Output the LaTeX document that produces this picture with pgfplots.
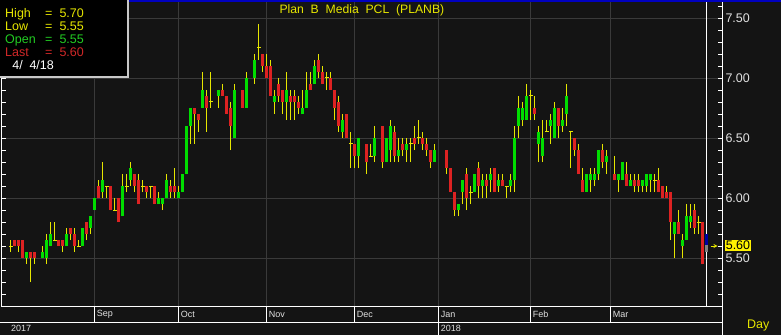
\documentclass[border=0pt]{standalone}
\usepackage{pgfplots}
\pgfplotsset{compat=1.18}
\usepackage{pgfplotstable}
\usepackage{fontspec}
\setmainfont{Liberation Sans}
\definecolor{bg}{HTML}{141414}
\definecolor{gridc}{HTML}{3A3A3A}
\definecolor{cgreen}{HTML}{00DD00}
\definecolor{cred}{HTML}{DD2222}
\definecolor{cyel}{HTML}{E6E600}
\definecolor{lgreen}{HTML}{22CC22}
\definecolor{lred}{HTML}{D02828}
\definecolor{labc}{HTML}{E0E0E0}
\definecolor{topblue}{HTML}{0000C0}
\definecolor{boxgrey}{HTML}{C8C8C8}
\definecolor{curblue}{HTML}{0000A0}
\definecolor{curgrey}{HTML}{808080}

\pgfplotstableread{
k o h l c
0 5.60 5.65 5.55 5.60
1 5.65 5.65 5.60 5.60
2 5.65 5.65 5.55 5.60
3 5.65 5.65 5.50 5.50
4 5.50 5.55 5.45 5.55
5 5.55 5.55 5.30 5.50
6 5.55 5.55 5.45 5.50
8 5.50 5.60 5.50 5.55
9 5.50 5.70 5.45 5.65
10 5.60 5.80 5.60 5.70
11 5.65 5.80 5.65 5.65
12 5.65 5.65 5.60 5.60
13 5.65 5.65 5.55 5.60
14 5.60 5.75 5.60 5.70
15 5.75 5.75 5.65 5.70
16 5.70 5.75 5.55 5.60
17 5.60 5.65 5.60 5.60
18 5.60 5.75 5.60 5.75
19 5.80 5.80 5.65 5.70
20 5.75 5.85 5.70 5.85
21 5.90 6.00 5.90 6.00
22 6.10 6.15 6.00 6.00
23 6.05 6.30 6.00 6.15
24 6.10 6.10 6.00 6.10
25 6.10 6.10 5.90 5.90
26 5.90 6.00 5.90 5.90
27 6.00 6.00 5.80 5.80
28 5.85 6.20 5.85 6.10
29 6.10 6.20 6.05 6.10
30 6.15 6.30 6.10 6.25
31 6.20 6.20 6.05 6.10
32 6.15 6.20 5.95 5.95
33 6.10 6.15 6.05 6.10
34 6.10 6.10 6.00 6.05
35 6.10 6.10 6.00 6.10
36 6.10 6.10 5.95 5.95
37 5.95 6.05 5.95 6.00
38 5.95 6.00 5.90 6.00
39 6.00 6.20 6.00 6.15
40 6.10 6.15 6.00 6.05
41 6.10 6.25 6.00 6.05
42 6.00 6.10 6.00 6.05
43 6.05 6.20 6.05 6.20
44 6.20 6.60 6.20 6.60
45 6.60 6.75 6.45 6.75
46 6.75 6.75 6.45 6.70
47 6.70 6.70 6.55 6.65
48 6.75 7.05 6.75 6.90
49 6.85 6.90 6.55 6.75
50 6.80 7.05 6.75 6.80
52 6.85 6.90 6.75 6.90
53 6.90 6.95 6.85 6.85
54 6.85 6.85 6.70 6.70
55 6.75 6.80 6.40 6.60
56 6.50 6.95 6.50 6.90
58 6.90 6.90 6.75 6.75
59 6.75 7.05 6.75 7.00
61 7.00 7.20 6.95 7.15
62 7.25 7.45 7.15 7.25
63 7.20 7.20 7.05 7.10
64 7.10 7.20 7.00 7.00
65 7.10 7.15 6.85 6.85
66 6.80 6.90 6.70 6.85
67 6.95 7.00 6.80 6.85
68 6.90 6.90 6.70 6.80
69 6.80 7.05 6.65 6.90
70 6.85 6.90 6.65 6.80
71 6.85 6.90 6.65 6.80
72 6.80 6.85 6.70 6.75
73 6.70 6.90 6.70 6.75
74 6.75 7.05 6.75 6.90
75 6.95 7.05 6.90 6.90
76 6.95 7.15 6.95 7.10
77 7.15 7.20 7.00 7.05
78 7.05 7.10 6.95 6.95
79 7.00 7.05 6.90 7.00
80 7.00 7.05 6.90 6.90
81 6.90 6.90 6.65 6.75
82 6.80 6.85 6.55 6.60
83 6.55 6.70 6.50 6.65
84 6.70 6.70 6.50 6.50
85 6.45 6.55 6.25 6.45
86 6.45 6.45 6.25 6.35
87 6.35 6.50 6.25 6.50
89 6.45 6.45 6.20 6.30
90 6.35 6.45 6.35 6.35
91 6.35 6.60 6.30 6.50
93 6.60 6.60 6.25 6.30
94 6.30 6.50 6.30 6.50
95 6.40 6.65 6.30 6.60
96 6.55 6.60 6.30 6.35
97 6.35 6.50 6.30 6.40
98 6.45 6.50 6.35 6.40
99 6.40 6.50 6.30 6.45
100 6.45 6.50 6.30 6.45
101 6.50 6.60 6.40 6.45
102 6.50 6.65 6.45 6.50
103 6.50 6.55 6.40 6.45
104 6.45 6.50 6.35 6.40
105 6.40 6.40 6.25 6.30
106 6.30 6.45 6.30 6.40
109 6.40 6.40 6.20 6.25
110 6.25 6.25 6.05 6.05
111 6.05 6.05 5.85 5.90
112 5.90 5.95 5.85 5.95
113 6.05 6.15 5.95 6.15
114 6.20 6.25 5.90 6.00
115 6.05 6.10 5.95 6.05
116 6.05 6.20 6.05 6.20
117 6.25 6.30 6.00 6.10
118 6.10 6.20 6.00 6.15
119 6.15 6.20 6.00 6.10
120 6.15 6.25 6.05 6.20
121 6.25 6.25 6.05 6.05
122 6.10 6.20 6.05 6.15
123 6.15 6.20 6.10 6.10
124 6.10 6.10 6.00 6.10
125 6.10 6.20 6.05 6.15
126 6.15 6.60 6.05 6.50
127 6.60 6.85 6.50 6.75
128 6.65 6.80 6.60 6.75
129 6.65 6.95 6.65 6.85
130 6.85 6.90 6.65 6.85
131 6.75 6.85 6.65 6.70
132 6.45 6.60 6.30 6.55
133 6.35 6.65 6.30 6.50
134 6.55 6.65 6.55 6.55
135 6.60 6.70 6.45 6.65
136 6.50 6.80 6.50 6.75
137 6.75 6.75 6.50 6.60
138 6.60 6.75 6.55 6.65
139 6.70 6.95 6.60 6.85
140 6.55 6.55 6.25 6.55
141 6.50 6.50 6.35 6.40
142 6.40 6.45 6.20 6.20
143 6.15 6.25 6.05 6.05
144 6.05 6.20 6.05 6.20
145 6.15 6.25 6.05 6.20
146 6.15 6.25 6.10 6.20
147 6.20 6.40 6.15 6.40
148 6.40 6.45 6.25 6.30
149 6.30 6.40 6.20 6.35
151 6.20 6.35 6.15 6.15
152 6.15 6.20 6.05 6.20
153 6.15 6.30 6.15 6.30
154 6.20 6.30 6.10 6.10
155 6.10 6.20 6.10 6.15
156 6.15 6.20 6.05 6.10
157 6.15 6.20 6.05 6.10
158 6.10 6.15 6.05 6.15
159 6.10 6.20 6.05 6.20
160 6.15 6.20 6.05 6.20
161 6.15 6.20 6.05 6.15
162 6.15 6.25 6.05 6.05
163 6.10 6.10 6.00 6.00
164 6.05 6.10 6.00 6.00
165 6.05 6.05 5.65 5.80
166 5.70 5.80 5.50 5.80
167 5.80 5.90 5.70 5.70
168 5.60 5.70 5.50 5.65
169 5.65 5.95 5.65 5.85
170 5.80 5.95 5.75 5.85
171 5.90 5.95 5.70 5.75
172 5.80 5.85 5.70 5.80
173 5.80 5.80 5.45 5.45
}\candles

\newcommand{\lf}{\fontsize{12.5}{14}\selectfont}
\newcommand{\smf}{\fontsize{9}{10}\selectfont}

\begin{document}
\begin{tikzpicture}[x=1pt,y=1pt]
\fill[bg] (0,0) rectangle (781,335);
\begin{axis}[
  at={(2pt,29pt)}, anchor=south west,
  width=720pt, height=304pt, scale only axis,
  xmin=-2.175, xmax=177.825, ymin=5.1, ymax=7.63333,
  axis background/.style={fill=bg},
  axis line style={white, line width=1pt},
  xtick=\empty,
  extra x ticks={21,42,64,86,107,130,150},
  extra x tick labels={},
  extra x tick style={grid=major, major tick length=0pt},
  ytick={5.5,6,6.5,7,7.5},
  minor ytick={5.2,5.3,5.4,5.6,5.7,5.8,5.9,6.1,6.2,6.3,6.4,6.6,6.7,6.8,6.9,7.1,7.2,7.3,7.4,7.6},
  ytick pos=both, yticklabel pos=right,
  tick align=inside,
  major tick length=4pt, minor tick length=4pt,
  tick style={white, line width=0.8pt},
  ymajorgrids,
  major grid style={gridc, line width=0.8pt},
  yticklabel style={font=\lf, text=labc,
    /pgf/number format/.cd, fixed, fixed zerofill, precision=2, assume math mode=true},
]
% wicks
\addplot[draw=none, mark=none,
  error bars/.cd, y dir=plus, y explicit, error mark=none,
  error bar style={draw=cyel, line width=1pt}]
  table[x=k, y=l, y error plus expr=\thisrow{h}-\thisrow{l}] {\candles};
% green bodies
\addplot[draw=none, mark=none,
  restrict expr to domain={\thisrow{c}-\thisrow{o}}{0.001:10},
  error bars/.cd, y dir=plus, y explicit, error mark=none,
  error bar style={draw=cgreen, line width=3pt}]
  table[x=k, y=o, y error plus expr=\thisrow{c}-\thisrow{o}] {\candles};
% red bodies
\addplot[draw=none, mark=none,
  restrict expr to domain={\thisrow{o}-\thisrow{c}}{0.001:10},
  error bars/.cd, y dir=plus, y explicit, error mark=none,
  error bar style={draw=cred, line width=3pt}]
  table[x=k, y=c, y error plus expr=\thisrow{o}-\thisrow{c}] {\candles};
% doji
\addplot[draw=none, mark=-, mark size=2pt, mark options={draw=cyel, line width=1pt},
  restrict expr to domain={\thisrow{c}-\thisrow{o}}{-0.001:0.001}]
  table[x=k, y=o] {\candles};
% cursor and current bar
\addplot[white, line width=1pt] coordinates {(174,5.1) (174,7.64)};
\addplot[draw=none, mark=none,
  error bars/.cd, y dir=plus, y explicit, error mark=none,
  error bar style={draw=curblue, line width=3pt}]
  coordinates {(174,5.605) +- (0,0.095)};
\addplot[draw=none, mark=none,
  error bars/.cd, y dir=plus, y explicit, error mark=none,
  error bar style={draw=curgrey, line width=3pt}]
  coordinates {(174,5.55) +- (0,0.055)};
\end{axis}

% bottom rows
\draw[white, line width=1pt] (0,13) -- (722,13);
\draw[white, line width=1pt] (2,29) -- (722,29);
\foreach \xx in {94.7,178.7,266.7,354.7,530.7,610.7}{
  \draw[white, line width=1pt] (\xx,13) -- (\xx,29);
}
\draw[white, line width=1pt] (438.7,0) -- (438.7,29);
\draw[white, line width=1pt] (722,0) -- (722,333);
\foreach \xx/\mm in {94.7/Sep,178.7/Oct,266.7/Nov,354.7/Dec,438.7/Jan,530.7/Feb,610.7/Mar}{
  \node[anchor=west, inner sep=0pt, text=labc, font=\smf] at (\xx+2,21) {\mm};
}
\node[anchor=west, inner sep=0pt, text=labc, font=\smf] at (11,6.5) {2017};
\node[anchor=west, inner sep=0pt, text=labc, font=\smf] at (440.7,6.5) {2018};
\node[anchor=west, inner sep=0pt, text=cyel, font=\lf] at (747,10) {Day};

% current price label
\node[anchor=west, fill=yellow, text=black, inner sep=0.6pt, font=\lf] at (725,89.5) {5.60};
\draw[cyel, line width=0.8pt, -stealth] (710.5,89) -- (717.5,89);

% top bar and title
\fill[topblue] (0,332.5) rectangle (781,335);
\node[anchor=base west, inner sep=0pt, text=cyel, font=\fontsize{12.2}{14}\selectfont] at (279.3,321.7) {Plan\ \ B\ \ Media\ \ PCL\ \ (PLANB)};

% info box
\filldraw[fill=black, draw=boxgrey, line width=2pt] (-2,258) rectangle (128,337);
\node[anchor=base west, inner sep=0pt, text=cyel, font=\lf] at (5,317.7) {High};
\node[anchor=base west, inner sep=0pt, text=cyel, font=\lf] at (45,317.7) {=};
\node[anchor=base west, inner sep=0pt, text=cyel, font=\lf] at (59.3,317.7) {5.70};
\node[anchor=base west, inner sep=0pt, text=cyel, font=\lf] at (5,304.3) {Low};
\node[anchor=base west, inner sep=0pt, text=cyel, font=\lf] at (45,304.3) {=};
\node[anchor=base west, inner sep=0pt, text=cyel, font=\lf] at (59.3,304.3) {5.55};
\node[anchor=base west, inner sep=0pt, text=lgreen, font=\lf] at (5,291.5) {Open};
\node[anchor=base west, inner sep=0pt, text=lgreen, font=\lf] at (45,291.5) {=};
\node[anchor=base west, inner sep=0pt, text=lgreen, font=\lf] at (59.3,291.5) {5.55};
\node[anchor=base west, inner sep=0pt, text=lred, font=\lf] at (5,278.3) {Last};
\node[anchor=base west, inner sep=0pt, text=lred, font=\lf] at (45,278.3) {=};
\node[anchor=base west, inner sep=0pt, text=lred, font=\lf] at (59.3,278.3) {5.60};
\node[anchor=base west, inner sep=0pt, text=white, font=\lf] at (12.3,265.7) {4/};
\node[anchor=base west, inner sep=0pt, text=white, font=\lf] at (29.3,265.7) {4/18};

\pgfresetboundingbox
\useasboundingbox (0,0) rectangle (781,335);
\end{tikzpicture}
\end{document}
